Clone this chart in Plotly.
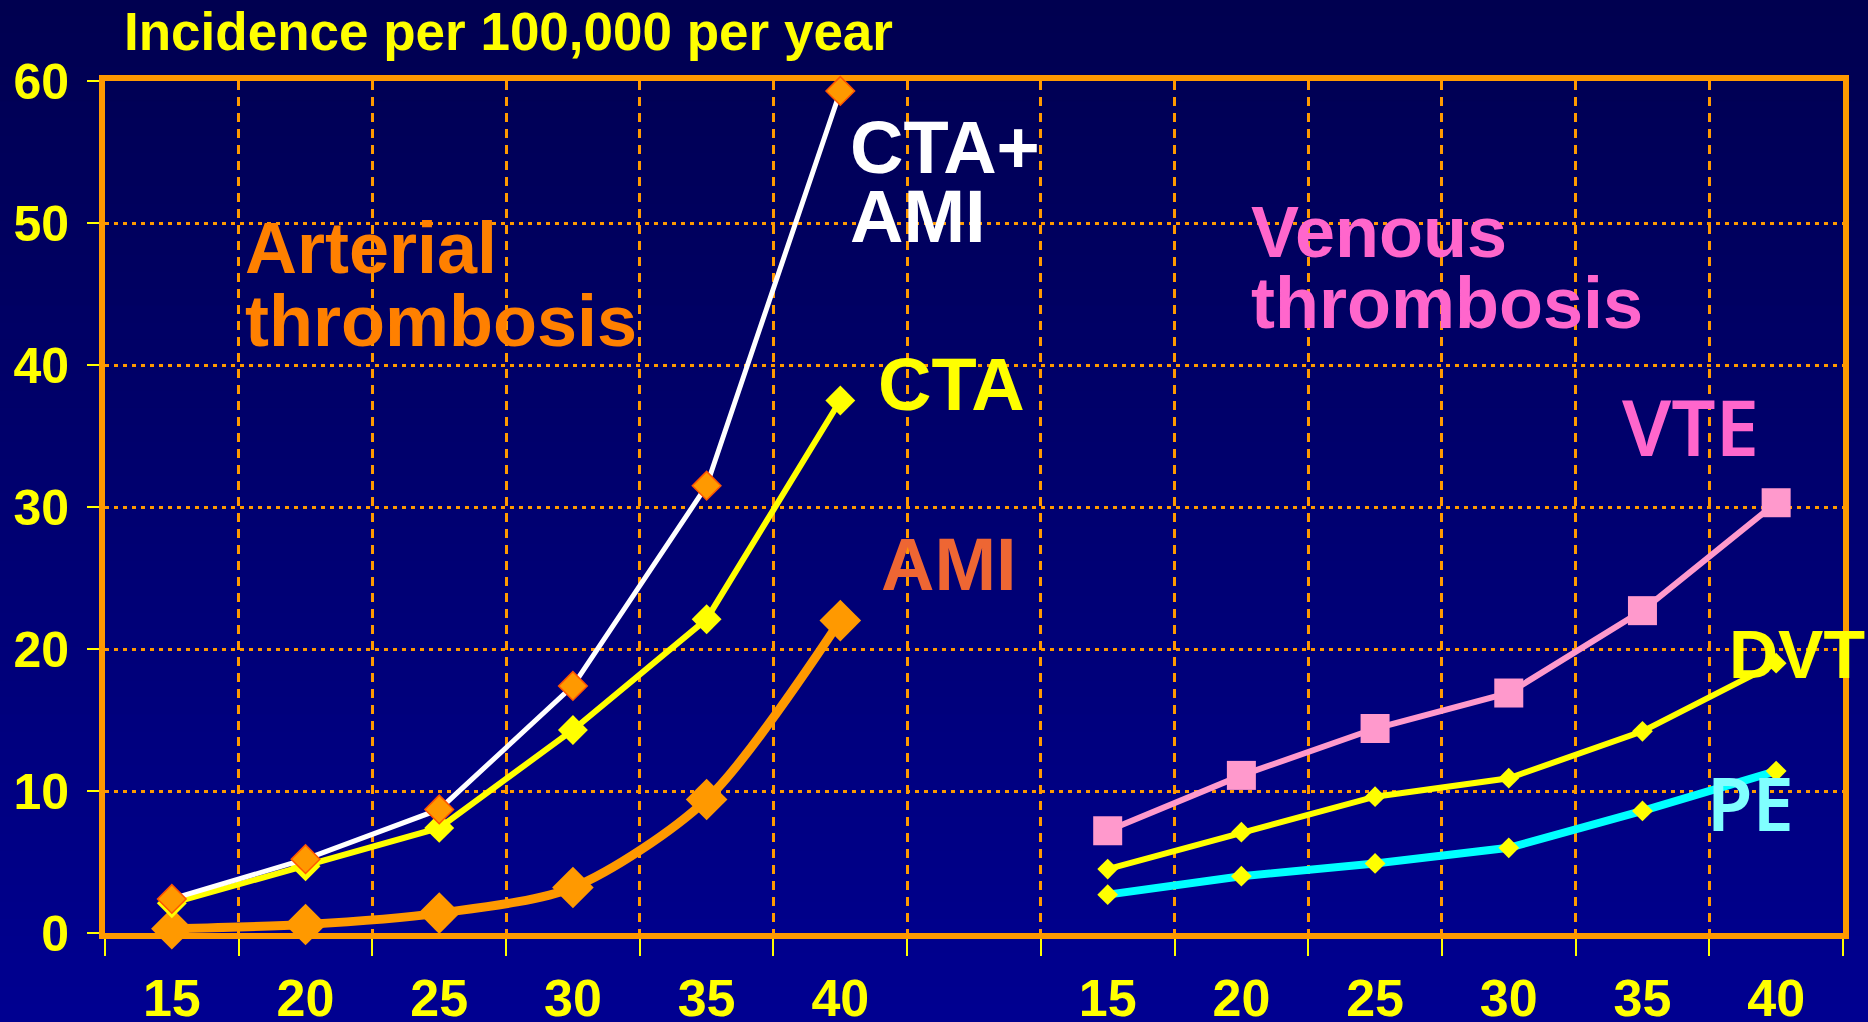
import plotly.graph_objects as go

# ---------------- data ----------------
ages = [15, 20, 25, 30, 35, 40]
art_cta_ami = [2.4, 5.2, 8.7, 17.4, 31.5, 59.3]
art_cta = [2.1, 4.7, 7.4, 14.3, 22.1, 37.5]
art_ami = [0.3, 0.6, 1.4, 3.2, 9.4, 22.0]
ven_vte = [7.2, 11.1, 14.4, 16.9, 22.7, 30.3]
ven_dvt = [4.5, 7.1, 9.6, 10.9, 14.2, 19.0]
ven_pe = [2.7, 4.0, 4.9, 6.0, 8.6, 11.4]
y_ticks = [0, 10, 20, 30, 40, 50, 60]
title_text = "Incidence per 100,000 per year"

# ---------------- layout geometry ----------------
W, H = 1868, 1022
OFF = 0  # page body margin removed via post_script
# desired on-screen plot box: x 105..1843, y 81..933
L = 105 - OFF
T = 81 - OFF
R = W - (1843 - OFF)
B = H - (933 - OFF)
PW, PH = W - L - R, H - T - B

def px(x):
    return (x - OFF - L) / PW

def py(y):
    return (H - B - (y - OFF)) / PH

n = len(ages)
left_x = list(range(n))
right_x = [n + 1 + i for i in range(n)]
all_x = left_x + right_x
all_labels = [str(a) for a in ages] * 2

ORANGE = "#FF9900"
YELLOW = "#FFFF00"
FONT = "Liberation Sans, Arial, sans-serif"
COMIC = "Comic Sans MS, Noto Sans, sans-serif"

fig = go.Figure()

# Arterial
fig.add_trace(go.Scatter(
    x=left_x, y=art_ami, mode="lines+markers",
    line=dict(color=ORANGE, width=9, shape="spline", smoothing=0.8),
    marker=dict(symbol="diamond", size=32, color=ORANGE, line=dict(width=0)),
    cliponaxis=False))
fig.add_trace(go.Scatter(
    x=left_x, y=art_cta, mode="lines+markers",
    line=dict(color=YELLOW, width=6),
    marker=dict(symbol="diamond", size=23, color=YELLOW, line=dict(width=0)),
    cliponaxis=False))
fig.add_trace(go.Scatter(
    x=left_x, y=art_cta_ami, mode="lines+markers",
    line=dict(color="#FFFFFF", width=5),
    marker=dict(symbol="diamond", size=22, color=ORANGE,
                line=dict(width=1.5, color="#FF5500")),
    cliponaxis=False))

# Venous
fig.add_trace(go.Scatter(
    x=right_x, y=ven_vte, mode="lines+markers",
    line=dict(color="#FF99CC", width=6),
    marker=dict(symbol="square", size=29, color="#FF99CC", line=dict(width=0)),
    cliponaxis=False))
fig.add_trace(go.Scatter(
    x=right_x, y=ven_dvt, mode="lines+markers",
    line=dict(color=YELLOW, width=6),
    marker=dict(symbol="diamond", size=16, color=YELLOW, line=dict(width=0)),
    cliponaxis=False))
fig.add_trace(go.Scatter(
    x=right_x, y=ven_pe, mode="lines+markers",
    line=dict(color="#00FFFF", width=8),
    marker=dict(symbol="diamond", size=16, color=YELLOW, line=dict(width=0)),
    cliponaxis=False))

# ---------------- background gradient ----------------
shapes = []
nb = 60
top_c = (0x00, 0x00, 0x50)
bot_c = (0x00, 0x00, 0x90)
for i in range(nb):
    t = i / (nb - 1)
    c = tuple(round(top_c[k] + (bot_c[k] - top_c[k]) * t) for k in range(3))
    y0p = H * i / nb - 1
    y1p = H * (i + 1) / nb + 1
    shapes.append(dict(type="rect", xref="paper", yref="paper",
                       x0=px(-20), x1=px(W + 20), y0=py(y1p), y1=py(y0p),
                       fillcolor="rgb(%d,%d,%d)" % c, line=dict(width=0),
                       layer="below"))

# thin yellow inner lines on left / bottom border
shapes.append(dict(type="line", xref="paper", yref="paper",
                   x0=px(103), x1=px(103), y0=py(936), y1=py(80),
                   line=dict(color=YELLOW, width=2), layer="between"))
shapes.append(dict(type="line", xref="paper", yref="paper",
                   x0=px(103), x1=px(1845), y0=py(934), y1=py(934),
                   line=dict(color=YELLOW, width=2), layer="between"))

# ---------------- annotations ----------------
def ann(text, x, y, size, color, family=FONT, weight="bold"):
    return dict(text=text, xref="paper", yref="paper", x=px(x), y=py(y),
                xanchor="left", yanchor="middle", showarrow=False,
                font=dict(family=family, size=size, color=color, weight=weight))

annotations = [
    ann(title_text, 122, 32, 53, YELLOW),
    ann("CTA+", 848, 147, 74, "#FFFFFF"),
    ann("AMI", 848, 217, 74, "#FFFFFF"),
    ann("Arterial", 243, 248, 72, "#FF8000"),
    ann("thrombosis", 243, 321, 72, "#FF8000"),
    ann("CTA", 876, 384, 74, YELLOW),
    ann("AMI", 879, 564, 74, "#EE6633"),
    ann("Venous", 1249, 232, 72, "#FF66CC"),
    ann("thrombosis", 1249, 303, 72, "#FF66CC"),
    ann("VTE", 1620, 426, 78, "#FF66CC", family=COMIC, weight=600),
    ann("DVT", 1727, 654, 68, YELLOW),
    ann("PE", 1705, 802, 74, "#80FFFF", family=COMIC, weight=600),
]

fig.update_layout(
    width=W, height=H,
    margin=dict(l=L, r=R, t=T, b=B, pad=0, autoexpand=False),
    paper_bgcolor="#000060",
    plot_bgcolor="rgba(0,0,0,0)",
    showlegend=False,
    shapes=shapes,
    annotations=annotations,
    xaxis=dict(
        range=[-0.5, len(all_x) + 0.5],
        automargin=False,
        tickmode="array", tickvals=all_x, ticktext=all_labels,
        ticks="", showgrid=False, zeroline=False,
        ticklabelstandoff=15,
        tickfont=dict(family=FONT, size=52, color=YELLOW, weight="bold"),
        showline=True, linecolor=ORANGE, linewidth=6, mirror=True,
        layer="below traces",
        minor=dict(tick0=0.5, dtick=1, ticks="outside", ticklen=17,
                   tickwidth=2, tickcolor=YELLOW, showgrid=True,
                   gridcolor=ORANGE, gridwidth=2.5, griddash="9px,7px"),
    ),
    yaxis=dict(
        range=[0, 60], tickmode="array", tickvals=y_ticks,
        automargin=False,
        ticks="outside", ticklen=12, tickwidth=2, tickcolor=YELLOW,
        ticklabelstandoff=8,
        tickfont=dict(family=FONT, size=50, color=YELLOW, weight="bold"),
        showgrid=True, gridcolor=ORANGE, gridwidth=2.5, griddash="4px,5px",
        zeroline=False,
        showline=True, linecolor=ORANGE, linewidth=6, mirror=True,
        layer="below traces",
    ),
)

fig.write_html(
    "out.html",
    config={"displayModeBar": False},
    post_script="document.body.style.margin='0';"
                "document.body.style.background='#000050';",
)
